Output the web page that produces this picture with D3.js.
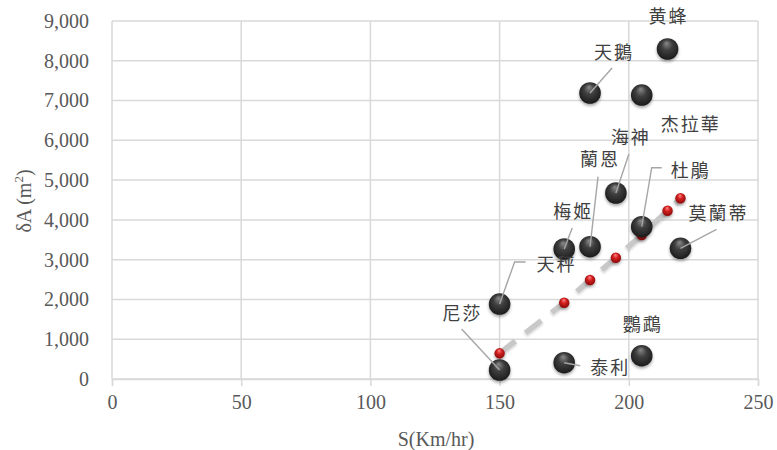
<!DOCTYPE html>
<html>
<head>
<meta charset="utf-8">
<script src="https://cdn.jsdelivr.net/npm/d3@7"></script>
<style>
  html, body { margin: 0; padding: 0; background: #ffffff; }
  svg { display: block; }
</style>
</head>
<body>
<svg id="chart" width="777" height="450"></svg>
<script>
// ---- data ----
const names  = ["尼莎", "天秤", "泰利", "梅姬", "蘭恩", "天鵝", "海神", "杜鵑", "杰拉華", "鸚鵡", "黄蜂", "莫蘭蒂"];
const speeds = [150, 150, 175, 175, 185, 185, 195, 205, 205, 205, 215, 220];
const areas  = [226, 1885, 410, 3268, 3326, 7190, 4676, 3829, 7139, 586, 8296, 3286];

const fitSpeeds = [150, 175, 185, 195, 205, 215, 220];
const fitAreas  = [646, 1918, 2489, 3049, 3620, 4231, 4543];

const xTicks = [0, 50, 100, 150, 200, 250];
const yTicks = [0, 1000, 2000, 3000, 4000, 5000, 6000, 7000, 8000, 9000];

// ---- layout (label placement relative to each ball, in px) ----
const labelLayout = [
  { dx: -38, dy: -58, leader: [[-38, -41], [0, 0]] },          // 尼莎
  { dx: 56,  dy: -41, leader: [[26, -42], [15, -42], [0, 0]] }, // 天秤
  { dx: 45,  dy: 3,   leader: [[16, 3], [0, 0]] },              // 泰利
  { dx: 8,   dy: -39, leader: [[8, -21], [0, 0]] },             // 梅姬
  { dx: 9,   dy: -89, leader: [[8, -70], [0, 0]] },             // 蘭恩
  { dx: 23,  dy: -42, leader: [[22, -25], [0, 0]] },            // 天鵝
  { dx: 14,  dy: -57, leader: [[13, -39], [0, 0]] },            // 海神
  { dx: 48,  dy: -58, leader: [[20, -59], [10, -59], [0, 0]] }, // 杜鵑
  { dx: 48,  dy: 28,  leader: null },                           // 杰拉華
  { dx: 0,   dy: -33, leader: null },                           // 鸚鵡
  { dx: 0,   dy: -34, leader: null },                           // 黄蜂
  { dx: 37,  dy: -36, leader: [[36, -19], [0, 0]] }             // 莫蘭蒂
];

const W = 777, H = 450;
const m = { left: 112, right: 19, top: 21, bottom: 71 };
const svg = d3.select("#chart");

const x = d3.scaleLinear().domain([0, 250]).range([m.left, W - m.right]);
const y = d3.scaleLinear().domain([0, 9000]).range([H - m.bottom, m.top]);

const defs = svg.append("defs");
const gBall = defs.append("radialGradient").attr("id", "ball")
  .attr("cx", "50%").attr("cy", "45%").attr("r", "55%").attr("fx", "45%").attr("fy", "22%");
gBall.append("stop").attr("offset", "0%").attr("stop-color", "#8a8a8a");
gBall.append("stop").attr("offset", "45%").attr("stop-color", "#3e3e3e");
gBall.append("stop").attr("offset", "85%").attr("stop-color", "#262626");
gBall.append("stop").attr("offset", "100%").attr("stop-color", "#1a1a1a");

const gRed = defs.append("radialGradient").attr("id", "red")
  .attr("cx", "50%").attr("cy", "45%").attr("r", "55%").attr("fx", "45%").attr("fy", "22%");
gRed.append("stop").attr("offset", "0%").attr("stop-color", "#ff8a8a");
gRed.append("stop").attr("offset", "45%").attr("stop-color", "#d42020");
gRed.append("stop").attr("offset", "100%").attr("stop-color", "#8c0a0a");

const sh = defs.append("filter").attr("id", "shadow").attr("x", "-50%").attr("y", "-50%").attr("width", "200%").attr("height", "200%");
sh.append("feDropShadow").attr("dx", 0).attr("dy", 2).attr("stdDeviation", 1.6)
  .attr("flood-color", "#000").attr("flood-opacity", 0.35);

const lsh = defs.append("filter").attr("id", "lshadow").attr("x", "-20%").attr("y", "-20%").attr("width", "140%").attr("height", "140%");
lsh.append("feDropShadow").attr("dx", 0).attr("dy", 1.5).attr("stdDeviation", 1)
  .attr("flood-color", "#000").attr("flood-opacity", 0.2);

// ---- grid ----
const grid = svg.append("g");
grid.selectAll(".hg").data(yTicks).enter().append("line")
  .attr("x1", m.left).attr("x2", W - m.right)
  .attr("y1", d => y(d)).attr("y2", d => y(d))
  .attr("stroke", "#d9d9d9").attr("stroke-width", 1.5);
grid.selectAll(".vg").data(xTicks).enter().append("line")
  .attr("x1", d => x(d)).attr("x2", d => x(d))
  .attr("y1", m.top).attr("y2", H - m.bottom)
  .attr("stroke", "#d9d9d9").attr("stroke-width", 1.5);

// ---- x axis ----
const xAxis = svg.append("g").attr("transform", `translate(0,${H - m.bottom})`)
  .call(d3.axisBottom(x).tickValues(xTicks).tickSize(7).tickPadding(9).tickFormat(d3.format("d")));
xAxis.select(".domain").attr("stroke", "#d9d9d9").attr("stroke-width", 1.5);
xAxis.selectAll(".tick line").attr("stroke", "#d9d9d9").attr("stroke-width", 1.5);
xAxis.selectAll("text").attr("fill", "#595959").style("font-family", "'Liberation Serif', 'Times New Roman', serif").style("font-size", "20px");

// ---- y axis ----
const yAxis = svg.append("g").attr("transform", `translate(${m.left},0)`)
  .call(d3.axisLeft(y).tickValues(yTicks).tickSize(0).tickPadding(23).tickFormat(d3.format(",")));
yAxis.select(".domain").remove();
yAxis.selectAll("text").attr("fill", "#595959").style("font-family", "'Liberation Serif', 'Times New Roman', serif").style("font-size", "20px");

// ---- axis titles ----
svg.append("text")
  .attr("x", (m.left + W - m.right) / 2 + 1).attr("y", 446)
  .attr("text-anchor", "middle")
  .attr("fill", "#595959")
  .style("font-family", "'Liberation Serif', 'Times New Roman', serif").style("font-size", "20px")
  .text("S(Km/hr)");

const yt = svg.append("text")
  .attr("transform", "translate(31,201) rotate(-90)")
  .attr("text-anchor", "middle")
  .attr("fill", "#595959")
  .style("font-family", "'Liberation Serif', 'Times New Roman', serif").style("font-size", "20px");
yt.append("tspan").text("δA (m");
yt.append("tspan").attr("dy", -8).style("font-size", "13px").text("2");
yt.append("tspan").attr("dy", 8).text(")");

// ---- fitted dashed line ----
const fitData = fitSpeeds.map((s, i) => ({ s, a: fitAreas[i] }));
svg.append("path")
  .datum(fitData)
  .attr("d", d3.line().x(d => x(d.s)).y(d => y(d.a)))
  .attr("fill", "none")
  .attr("stroke", "#c8c8c8").attr("stroke-width", 5.5)
  .attr("stroke-dasharray", "20 13")
  .attr("filter", "url(#lshadow)");

// ---- fitted red points ----
svg.append("g").selectAll("circle").data(fitData).enter().append("circle")
  .attr("cx", d => x(d.s)).attr("cy", d => y(d.a)).attr("r", 5.2)
  .attr("fill", "url(#red)").attr("filter", "url(#shadow)");

// ---- balls ----
const pts = names.map((n, i) => ({ n, s: speeds[i], a: areas[i], L: labelLayout[i] }));
svg.append("g").selectAll("circle").data(pts).enter().append("circle")
  .attr("cx", d => x(d.s)).attr("cy", d => y(d.a)).attr("r", 10.8)
  .attr("fill", "url(#ball)").attr("filter", "url(#shadow)");

// ---- leader lines ----
svg.append("g").selectAll("path").data(pts.filter(d => d.L.leader)).enter().append("path")
  .attr("d", d => d3.line()(d.L.leader.map(p => [x(d.s) + p[0], y(d.a) + p[1]])))
  .attr("fill", "none").attr("stroke", "#a6a6a6").attr("stroke-width", 1.4);

// ---- labels ----
svg.append("g").selectAll("text").data(pts).enter().append("text")
  .attr("x", d => x(d.s) + d.L.dx + 1).attr("y", d => y(d.a) + d.L.dy)
  .attr("text-anchor", "middle").attr("dominant-baseline", "central")
  .attr("fill", "#404040")
  .style("font-family", "'Noto Sans CJK TC', 'Noto Sans CJK SC', sans-serif")
  .style("font-size", "18px").style("letter-spacing", "2px")
  .text(d => d.n);
</script>
</body>
</html>
